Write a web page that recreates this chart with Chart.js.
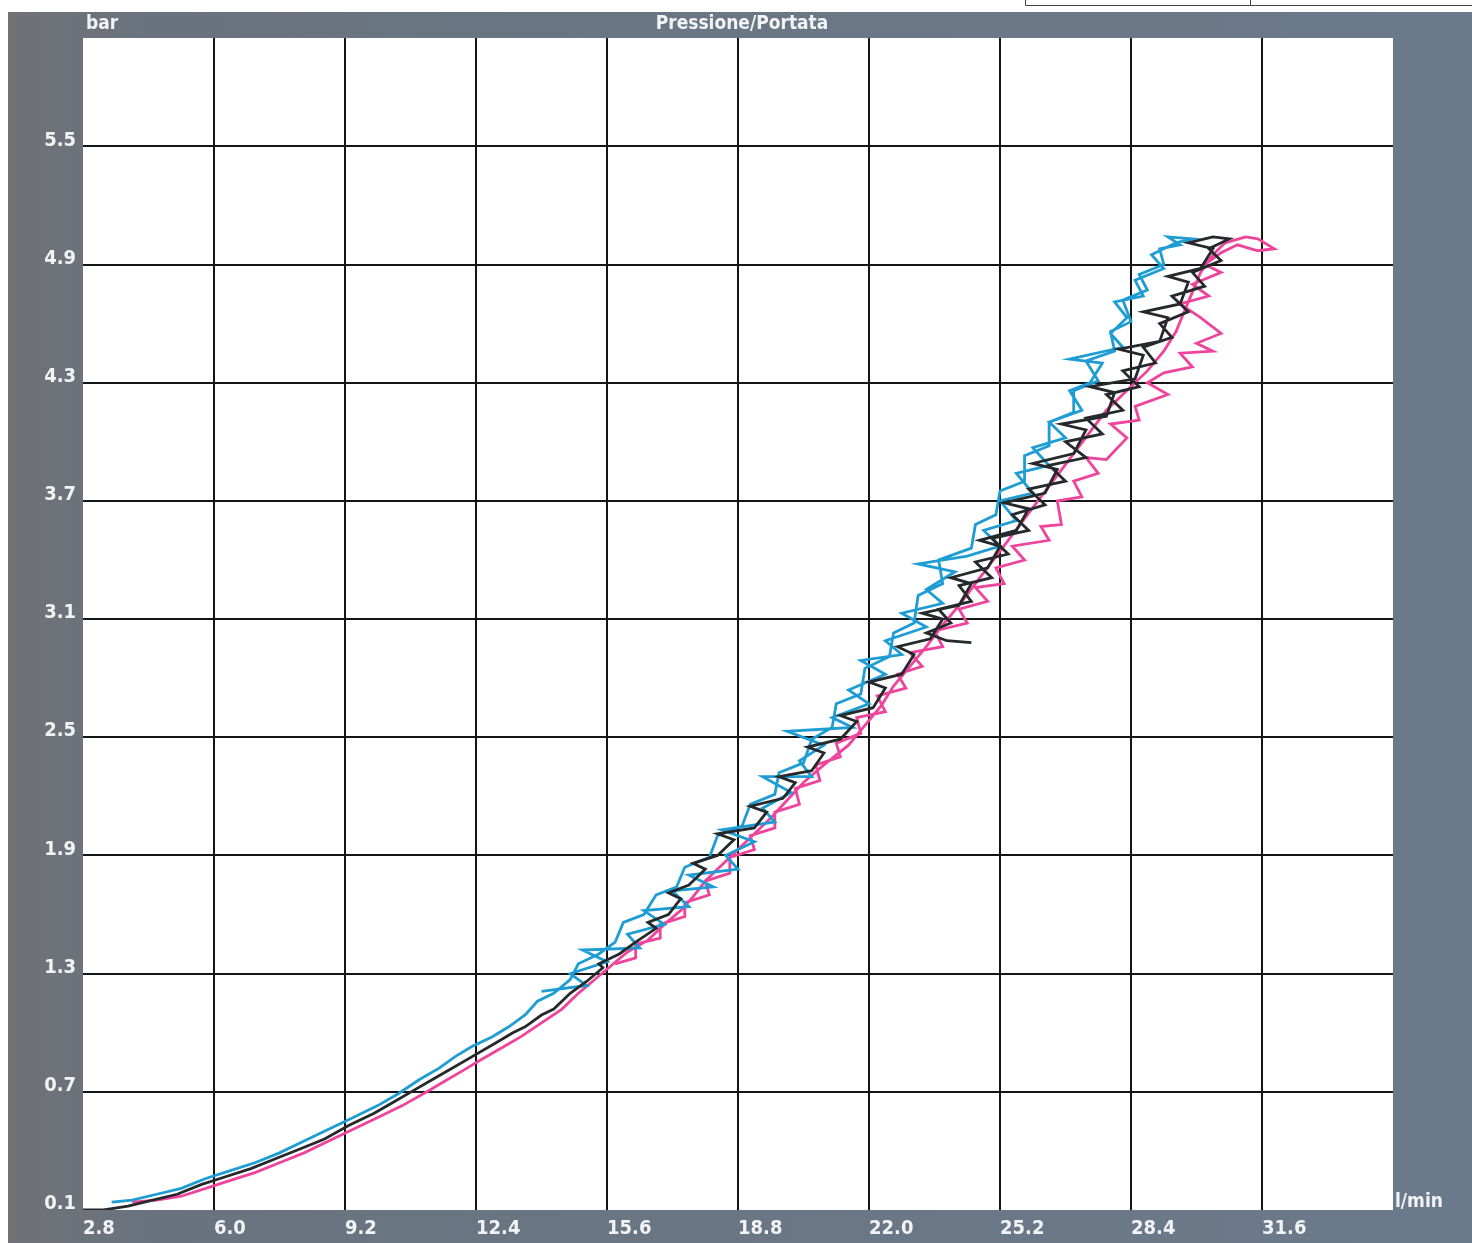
<!DOCTYPE html>
<html>
<head>
<meta charset="utf-8">
<script src="https://cdn.jsdelivr.net/npm/chart.js@4.4.0/dist/chart.umd.min.js"></script>
<style>
  html, body { margin: 0; padding: 0; background: #fff; }
  canvas { display: block; }
</style>
</head>
<body>
<canvas id="pqChart" width="1472" height="1243"></canvas>
<script>
// tick labels
const xTicks = [2.8, 6.0, 9.2, 12.4, 15.6, 18.8, 22.0, 25.2, 28.4, 31.6];
const yTicks = [0.1, 0.7, 1.3, 1.9, 2.5, 3.1, 3.7, 4.3, 4.9, 5.5];

// portata (l/min), pressione (bar)
const blackPts = [
  [2.8,0.10],[3.3,0.10],[3.9,0.12],[4.5,0.15],[5.1,0.18],[5.7,0.23],[6.3,0.27],[6.9,0.31],[7.5,0.36],[8.1,0.41],
  [8.7,0.46],[9.3,0.53],[9.9,0.59],[10.4,0.65],[10.9,0.71],[11.4,0.77],[11.9,0.83],[12.4,0.89],[12.9,0.95],[13.3,1.00],
  [13.6,1.03],[14.0,1.09],[14.3,1.12],[14.7,1.20],[15.1,1.26],[15.5,1.33],[15.4,1.35],[15.9,1.40],[16.3,1.46],[16.8,1.53],
  [16.6,1.56],[17.1,1.60],[17.4,1.68],[17.1,1.71],[17.6,1.75],[18.0,1.83],[17.7,1.86],[18.3,1.90],[18.7,1.98],[18.3,2.01],
  [19.2,2.04],[19.5,2.12],[19.1,2.15],[19.9,2.19],[20.2,2.27],[19.8,2.30],[20.6,2.33],[20.9,2.42],[20.5,2.45],[21.3,2.49],
  [21.7,2.58],[21.3,2.61],[22.1,2.65],[22.4,2.75],[22.0,2.78],[22.8,2.82],[23.1,2.92],[22.7,2.96],[23.5,3.00],[23.8,3.10],
  [23.3,3.13],[24.2,3.17],[24.5,3.28],[24.0,3.31],[24.9,3.36],[25.2,3.47],[24.7,3.50],[25.6,3.55],[25.9,3.66],[25.3,3.69],
  [26.3,3.74],[26.6,3.86],[26.0,3.89],[27.0,3.94],[27.3,4.06],[26.7,4.09],[27.8,4.13],[28.0,4.25],[27.4,4.28],[28.5,4.32],
  [28.7,4.44],[28.1,4.47],[29.1,4.51],[29.3,4.63],[28.7,4.66],[29.6,4.70],[29.8,4.81],[29.3,4.84],[30.1,4.88],[30.4,4.98],
  [29.8,5.01],[30.4,5.04],[30.8,5.03],[30.3,4.98],[30.6,4.92],[29.9,4.86],[30.2,4.79],[29.4,4.74],[29.8,4.66],[29.1,4.60],
  [29.4,4.53],[28.7,4.48],[29.0,4.40],[28.2,4.36],[28.6,4.28],[27.8,4.24],[28.2,4.16],[27.3,4.12],[27.7,4.04],[26.8,4.00],
  [27.3,3.92],[26.4,3.88],[26.8,3.80],[25.9,3.76],[26.3,3.68],[25.5,3.63],[25.9,3.55],[25.0,3.51],[25.4,3.43],[24.6,3.39],
  [25.0,3.31],[24.2,3.27],[24.5,3.19],[23.7,3.15],[24.0,3.08],[23.4,3.03],[23.9,2.99],[24.5,2.98]
];

const cyanPts = [
  [3.5,0.14],[4.0,0.15],[4.6,0.18],[5.2,0.21],[5.8,0.26],[6.4,0.30],[7.0,0.34],[7.6,0.39],[8.2,0.45],[8.8,0.51],
  [9.4,0.57],[10.0,0.63],[10.5,0.69],[11.0,0.76],[11.5,0.82],[11.9,0.88],[12.3,0.93],[12.8,0.98],[13.2,1.03],[13.6,1.09],
  [13.9,1.16],[14.3,1.20],[14.7,1.27],[14.9,1.35],[15.4,1.40],[15.8,1.46],[16.0,1.56],[16.5,1.60],[16.8,1.70],[17.3,1.74],
  [17.5,1.84],[18.1,1.89],[18.3,2.00],[18.9,2.05],[19.1,2.16],[19.7,2.21],[19.8,2.32],[20.4,2.37],[20.6,2.49],[21.1,2.55],
  [21.2,2.67],[21.8,2.72],[21.9,2.85],[22.5,2.91],[22.6,3.03],[23.1,3.08],[23.2,3.22],[23.8,3.28],[23.7,3.40],[24.5,3.46],
  [24.6,3.58],[25.1,3.63],[25.2,3.75],[25.8,3.80],[25.8,3.93],[26.4,3.98],[26.4,4.10],[27.0,4.15],[27.0,4.26],[27.6,4.31],
  [27.3,4.41],[28.0,4.46],[27.9,4.56],[28.4,4.61],[28.2,4.72],[28.8,4.77],[28.6,4.85],[29.2,4.90],[29.1,4.98],[29.6,5.00],
  [29.3,5.04],[29.9,5.03],[29.5,5.01],[28.9,4.95],[29.2,4.88],[28.5,4.82],[28.7,4.74],[28.0,4.71],[28.3,4.63],[27.9,4.55],
  [28.2,4.48],[26.9,4.42],[27.7,4.40],[27.4,4.30],[26.9,4.26],[27.2,4.16],[26.4,4.10],[26.8,4.02],[26.0,3.97],[26.4,3.88],
  [25.6,3.84],[26.0,3.74],[25.2,3.70],[25.6,3.60],[24.8,3.55],[25.2,3.47],[24.4,3.42],[23.2,3.38],[24.1,3.34],[23.4,3.25],
  [23.8,3.18],[22.8,3.13],[23.4,3.06],[22.4,2.99],[22.8,2.92],[21.8,2.89],[22.4,2.82],[21.5,2.74],[22.0,2.67],[21.1,2.60],
  [21.6,2.55],[20.0,2.53],[20.9,2.46],[20.3,2.38],[20.6,2.30],[19.4,2.30],[20.1,2.22],[19.4,2.14],[19.7,2.07],[18.4,2.03],
  [19.2,1.97],[18.5,1.90],[18.8,1.83],[17.6,1.80],[18.2,1.74],[17.2,1.72],[17.6,1.64],[16.5,1.62],[17.0,1.55],[16.1,1.50],
  [16.4,1.43],[15.0,1.42],[15.6,1.36],[14.7,1.30],[15.1,1.24],[14.0,1.21]
];

const magentaPts = [
  [4.0,0.14],[4.6,0.15],[5.2,0.17],[5.8,0.21],[6.4,0.25],[7.0,0.29],[7.6,0.34],[8.2,0.39],[8.8,0.45],[9.4,0.51],
  [10.0,0.57],[10.6,0.63],[11.2,0.70],[11.6,0.75],[12.1,0.81],[12.5,0.86],[13.0,0.92],[13.5,0.98],[14.0,1.05],[14.5,1.12],
  [14.9,1.20],[15.3,1.27],[15.7,1.34],[16.1,1.41],[16.6,1.47],[17.0,1.55],[17.4,1.62],[17.7,1.69],[18.0,1.77],[18.4,1.85],
  [18.8,1.93],[19.2,2.01],[19.6,2.09],[20.0,2.18],[20.4,2.27],[20.9,2.36],[21.5,2.46],[21.9,2.56],[22.3,2.66],[22.6,2.76],
  [23.0,2.86],[23.4,2.96],[23.8,3.07],[24.2,3.17],[24.6,3.28],[25.0,3.39],[25.4,3.50],[25.8,3.61],[26.2,3.72],[26.6,3.83],
  [27.0,3.94],[27.4,4.05],[27.8,4.16],[28.3,4.26],[28.8,4.36],[29.2,4.46],[29.5,4.56],[29.7,4.66],[29.9,4.76],[30.1,4.86],
  [30.4,4.95],[30.7,5.01],[31.2,5.04],[31.5,5.03],[31.9,4.98],[31.5,4.97],[31.0,5.00],[30.6,4.96],[30.2,4.90],[30.6,4.86],
  [29.9,4.80],[30.3,4.74],[29.6,4.70],[30.1,4.63],[30.6,4.55],[30.0,4.50],[30.4,4.46],[29.6,4.45],[29.9,4.38],[29.2,4.35],
  [28.8,4.30],[29.3,4.24],[28.5,4.18],[28.6,4.11],[27.9,4.09],[28.3,4.02],[27.8,3.91],[27.3,3.92],[27.6,3.84],[27.0,3.80],
  [27.2,3.72],[26.6,3.70],[26.7,3.58],[26.2,3.57],[26.4,3.50],[25.5,3.47],[25.8,3.40],[25.1,3.36],[25.3,3.28],[24.6,3.26],
  [24.9,3.19],[24.2,3.15],[24.4,3.08],[23.6,3.04],[23.8,2.96],[23.0,2.93],[23.3,2.86],[22.7,2.82],[22.9,2.75],[22.2,2.71],
  [22.4,2.63],[21.7,2.60],[21.8,2.52],[21.2,2.47],[21.3,2.40],[20.7,2.36],[20.8,2.28],[20.2,2.24],[20.3,2.16],[19.7,2.12],
  [19.7,2.04],[19.1,2.00],[19.2,1.93],[18.6,1.89],[18.6,1.81],[18.0,1.77],[18.1,1.70],[17.5,1.66],[17.5,1.59],[16.9,1.55],
  [16.9,1.48],[16.3,1.45],[16.3,1.38],[15.8,1.35]
];

const FONT = "'DejaVu Sans Condensed', 'Liberation Sans Narrow', sans-serif";
const TXT = '#f2f3f5';

// cornice grigia, area bianca, pezzo di tabella in alto
const framePlugin = {
  id: 'frame',
  beforeDraw(chart) {
    const c = chart.ctx, a = chart.chartArea, W = chart.width, H = chart.height;
    c.save();
    c.fillStyle = '#fff';
    c.fillRect(0, 0, W, H);
    const g = c.createLinearGradient(8, 0, W, 0);
    g.addColorStop(0, '#717176');
    g.addColorStop(0.1, '#69737f');
    g.addColorStop(1, '#6b7a8b');
    c.fillStyle = g;
    c.fillRect(8, 12, W - 8, H - 12);
    c.fillStyle = '#fff';
    c.fillRect(a.left, a.top, a.right - a.left, a.bottom - a.top);
    c.strokeStyle = '#444';
    c.lineWidth = 1;
    c.beginPath();
    c.moveTo(1025.5, 0); c.lineTo(1025.5, 5.5); c.lineTo(W, 5.5);
    c.moveTo(1250.5, 0); c.lineTo(1250.5, 5.5);
    c.stroke();
    c.restore();
  },
  afterDraw(chart) {
    const c = chart.ctx;
    c.save();
    c.fillStyle = TXT;
    c.textBaseline = 'middle';
    c.font = 'bold 19px ' + FONT;
    c.textAlign = 'left';
    c.fillText('bar', 86, 24);
    c.fillText('l/min', 1395, 1202);
    c.textAlign = 'center';
    c.fillText('Pressione/Portata', 742, 24);
    c.restore();
  }
};

const ds = (label, data, color) => ({
  label, data, borderColor: color, borderWidth: 2.8,
  pointRadius: 0, tension: 0, fill: false
});

const ctx = document.getElementById('pqChart').getContext('2d');
new Chart(ctx, {
  type: 'line',
  data: {
    datasets: [
      ds('nero', blackPts, '#25292c'),
      ds('ciano', cyanPts, '#1e9dd5'),
      ds('magenta', magentaPts, '#ef449b')
    ]
  },
  options: {
    responsive: false,
    animation: false,
    layout: { padding: { top: 38, right: 79, left: 0, bottom: 0 } },
    plugins: { legend: { display: false }, tooltip: { enabled: false } },
    scales: {
      x: {
        type: 'linear', min: 2.8, max: 34.8,
        afterBuildTicks: s => { s.ticks = xTicks.map(v => ({ value: v })); },
        afterFit: s => { s.height = 33; },
        border: { display: false },
        grid: {
          drawTicks: false, lineWidth: 2,
          color: c => (c.index === 0 ? 'rgba(0,0,0,0)' : '#151515')
        },
        ticks: {
          autoSkip: false, maxRotation: 0, align: 'start', padding: 7,
          color: TXT, font: { family: FONT, size: 20, weight: 'bold' },
          callback: v => Number(v).toFixed(1)
        }
      },
      y: {
        type: 'linear', min: 0.1, max: 6.05,
        afterBuildTicks: s => { s.ticks = yTicks.map(v => ({ value: v })); },
        afterFit: s => { s.width = 83; },
        border: { display: false },
        grid: {
          drawTicks: false, lineWidth: 2,
          color: c => (c.index === 0 ? 'rgba(0,0,0,0)' : '#151515')
        },
        ticks: {
          autoSkip: false, padding: 7, labelOffset: -6,
          color: TXT, font: { family: FONT, size: 20, weight: 'bold' },
          callback: v => Number(v).toFixed(1)
        }
      }
    }
  },
  plugins: [framePlugin]
});
</script>
</body>
</html>
